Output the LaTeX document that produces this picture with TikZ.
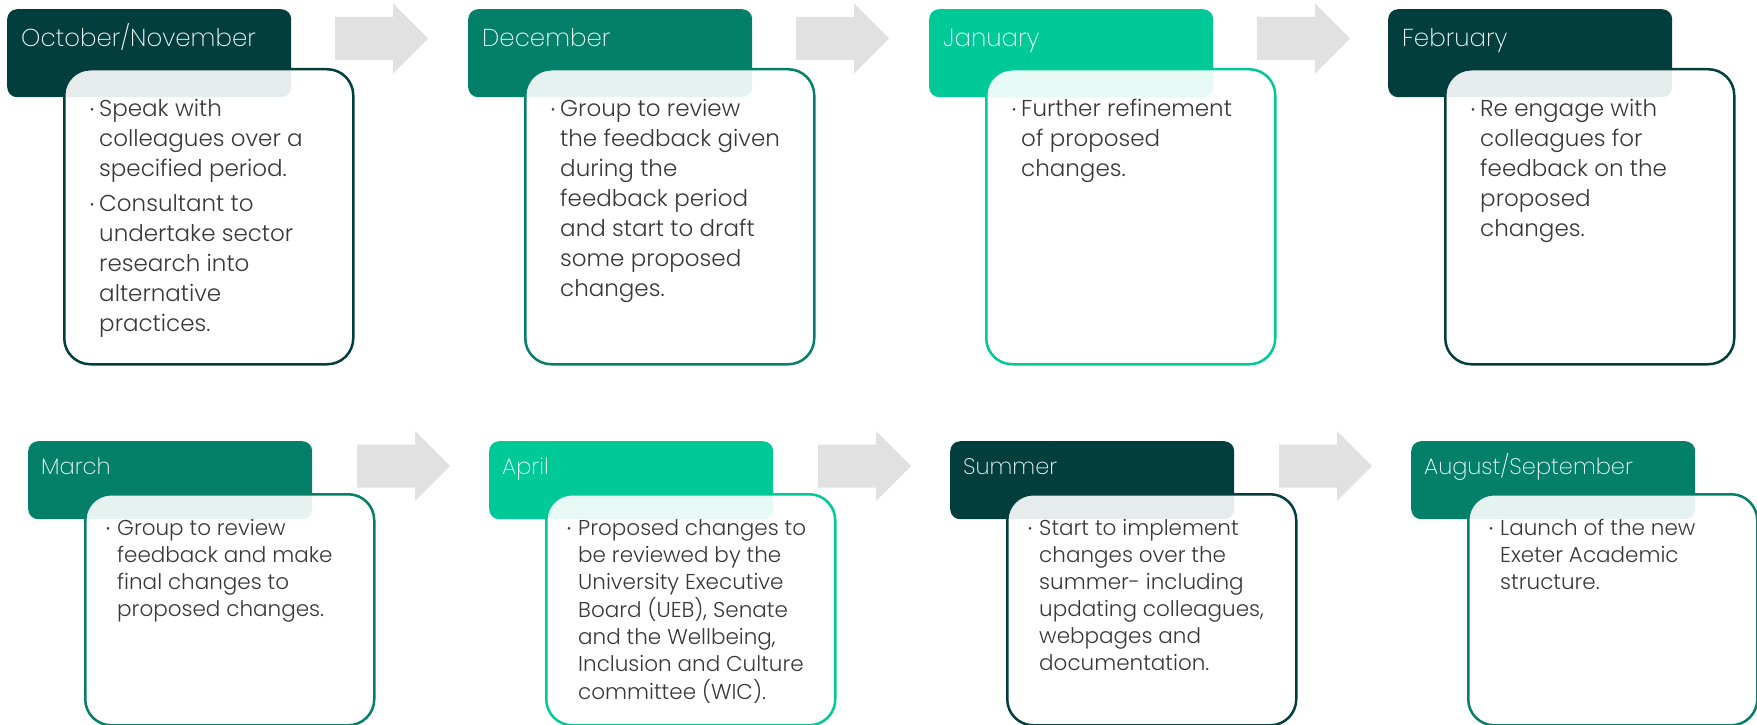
\documentclass[tikz,border=0pt]{standalone}
\usepackage{fontspec}
\setmainfont{Poppins Light}
\newfontfamily\monthfont{Poppins ExtraLight}

\definecolor{tealdark}{HTML}{033E3E}
\definecolor{tealmid}{HTML}{047F6A}
\definecolor{tealbright}{HTML}{00C998}
\definecolor{arrowgrey}{HTML}{E1E1E1}
\definecolor{bodytext}{HTML}{383838}

\tikzset{
  monthbox/.style={draw=none, fill=#1, rounded corners=10pt, minimum width=284pt,
    inner sep=0pt, anchor=north west},
  notebox/.style={draw=#1, line width=2.5pt, fill=white, fill opacity=0.9,
    rounded corners=26pt, minimum width=289pt, inner sep=0pt, anchor=north west},
  monthlabel/.style={anchor=base west, inner sep=0pt, text=white!94!tealbright},
  notetext/.style={anchor=north west, inner sep=0pt, text=bodytext, align=left},
}

% small list bullet
\newcommand\bul{\raisebox{3pt}{\fontsize{11}{11}\selectfont •}}

% one stage of the upper row: name, left x, colour, month, list rows
\newcommand\topstage[5]{%
  \node[monthbox=#3, minimum height=88pt] (#1-head) at (#2,9) {};
  \node[monthlabel, font=\monthfont\fontsize{24.5}{30}\selectfont] (#1-month) at (#2+14,47) {#4};
  \node[notebox=#3, minimum height=295pt] (#1-box) at (#2+56,68) {};
  \node[notetext, font=\fontsize{23}{30}\selectfont] (#1-text) at (#2+83,95)
    {\begin{tabular}{@{}l@{\hspace{5pt}}l@{}}#5\end{tabular}};
}
% one stage of the lower row
\newcommand\lowstage[5]{%
  \node[monthbox=#3, minimum height=78pt] (#1-head) at (#2,441) {};
  \node[monthlabel, font=\monthfont\fontsize{22.5}{30}\selectfont] (#1-month) at (#2+13,474) {#4};
  \node[notebox=#3, minimum height=231pt] (#1-box) at (#2+56,493) {};
  \node[notetext, font=\fontsize{21.5}{27}\selectfont] (#1-text) at (#2+78,516)
    {\begin{tabular}{@{}l@{\hspace{7pt}}l@{}}#5\end{tabular}};
}
% grey block arrow between stages, anchored at its left centre
\newcommand\stagearrow[3]{%
  \coordinate (#1) at (#2,#3);
  \fill[arrowgrey] (#1) ++(0,-21.5) -- ++(58,0) -- ++(0,-13.5) -- ++(35,35)
    -- ++(-35,35) -- ++(0,-13.5) -- ++(-58,0) -- cycle;
}

\begin{document}
\begin{tikzpicture}[x=1pt, y=-1pt]
\useasboundingbox (0,0) rectangle (1757,725);

\stagearrow{arrA}{335}{38.5}
\stagearrow{arrB}{796}{38.5}
\stagearrow{arrC}{1257}{38.5}
\stagearrow{arrD}{357}{466}
\stagearrow{arrE}{818}{466}
\stagearrow{arrF}{1279}{466}

\topstage{octnov}{7}{tealdark}{October/November}{%
  \bul & Speak with\\
       & colleagues over a\\
       & specified period.\\[5pt]
  \bul & Consultant to\\
       & undertake sector\\
       & research into\\
       & alternative\\
       & practices.}
\topstage{dec}{468}{tealmid}{December}{%
  \bul & Group to review\\
       & the feedback given\\
       & during the\\
       & feedback period\\
       & and start to draft\\
       & some proposed\\
       & changes.}
\topstage{jan}{929}{tealbright}{January}{%
  \bul & Further refinement\\
       & of proposed\\
       & changes.}
\topstage{feb}{1388}{tealdark}{February}{%
  \bul & Re engage with\\
       & colleagues for\\
       & feedback on the\\
       & proposed\\
       & changes.}

\lowstage{mar}{28}{tealmid}{March}{%
  \bul & Group to review\\
       & feedback and make\\
       & final changes to\\
       & proposed changes.}
\lowstage{apr}{489}{tealbright}{April}{%
  \bul & Proposed changes to\\
       & be reviewed by the\\
       & University Executive\\
       & Board (UEB), Senate\\
       & and the Wellbeing,\\
       & Inclusion and Culture\\
       & committee (WIC).}
\lowstage{summer}{950}{tealdark}{Summer}{%
  \bul & Start to implement\\
       & changes over the\\
       & summer- including\\
       & updating colleagues,\\
       & webpages and\\
       & documentation.}
\lowstage{augsep}{1411}{tealmid}{August/September}{%
  \bul & Launch of the new\\
       & Exeter Academic\\
       & structure.}
\end{tikzpicture}
\end{document}
